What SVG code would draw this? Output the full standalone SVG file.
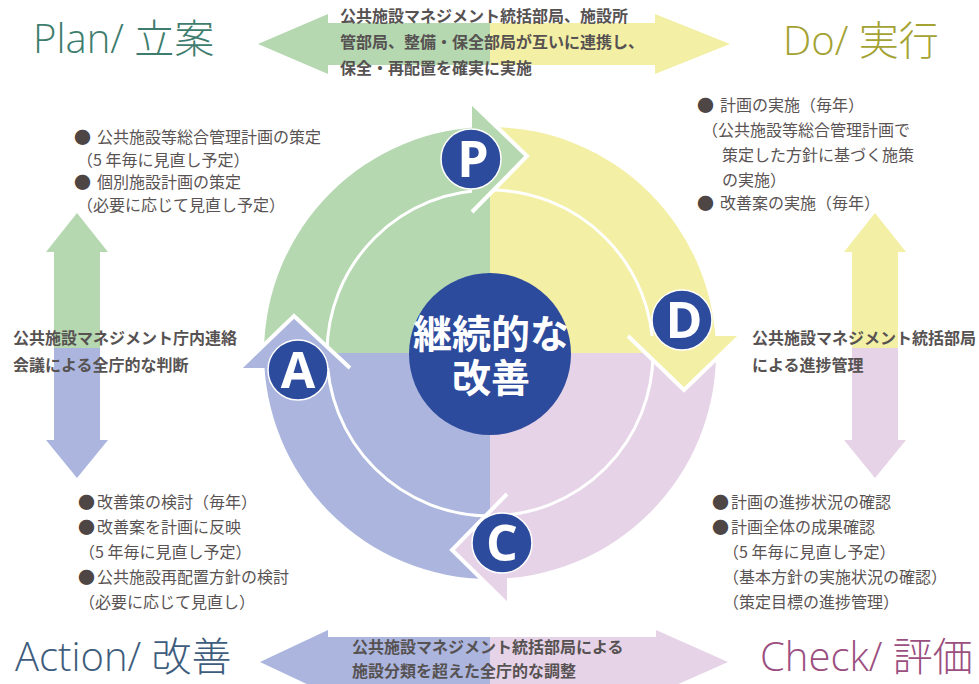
<svg xmlns="http://www.w3.org/2000/svg" width="979" height="684" viewBox="0 0 979 684">
<style>
.g{fill:#b5d8b1}.y{fill:#f3efa4}.p{fill:#e6d3e7}.b{fill:#abb5de}
.edge{fill:none;stroke:#fff;stroke-width:4;stroke-linejoin:miter}
.badge{fill:#2d4b9c;stroke:#fff;stroke-width:1.5}
.bl{font-family:"Open Sans","Liberation Sans",sans-serif;font-weight:700;font-size:50px;fill:#fff;text-anchor:middle}
.lab{font-family:"Noto Sans CJK JP",sans-serif;font-weight:700;font-size:16px;fill:#575252}
.txt{font-family:"Noto Sans CJK JP",sans-serif;font-size:16px;fill:#5a5353}
.bul{font-size:17px;fill:#4e4545}
.ttl{font-family:"Open Sans","Noto Sans CJK JP",sans-serif;font-weight:300;font-size:40px}
.ctr{font-family:"Noto Sans CJK JP",sans-serif;font-weight:700;font-size:39px;fill:#fff;text-anchor:middle}
</style>
<rect width="979" height="684" fill="#fff"/>
<g id="connectors">
  <g id="arrow-top">
    <path class="g" d="M258,44 L328,14 L328,23 L490,23 L490,65 L328,65 L328,74 Z"/>
    <path class="y" d="M730,44 L655,14 L655,23 L490,23 L490,65 L655,65 L655,74 Z"/>
  </g>
  <g id="arrow-bottom">
    <path class="b" d="M260,662 L328,630 L328,637 L490,637 L490,687 L328,687 L328,694 Z"/>
    <path class="p" d="M728,662 L656,630 L656,637 L490,637 L490,687 L656,687 L656,694 Z"/>
  </g>
  <g id="arrow-left">
    <path class="g" d="M77,213 L108,252 L100,252 L100,348 L54,348 L54,252 L46,252 Z"/>
    <path class="b" d="M77,478 L108,440 L100,440 L100,348 L54,348 L54,440 L46,440 Z"/>
  </g>
  <g id="arrow-right">
    <path class="y" d="M875,213 L906,252 L898,252 L898,348 L852,348 L852,252 L844,252 Z"/>
    <path class="p" d="M875,478 L906,440 L898,440 L898,348 L852,348 L852,440 L844,440 Z"/>
  </g>
</g>
<g id="cycle">
  <path class="g" d="M490,353 L264,353 A226,226 0 0 1 490,127 Z"/>
  <path class="y" d="M490,353 L490,127 A226,226 0 0 1 716,353 Z"/>
  <path class="p" d="M490,353 L716,353 A226,226 0 0 1 490,579 Z"/>
  <path class="b" d="M490,353 L490,579 A226,226 0 0 1 264,353 Z"/>
  <circle cx="490" cy="353" r="163" fill="none" stroke="#fff" stroke-width="3"/>
</g>
<g id="head-P"><path class="g" d="M472,103 L527,156 L472,212 Z"/><path class="edge" d="M472,103 L527,156 L472,212"/></g>
<g id="head-D"><path class="y" d="M628,336 L684,390 L740,336 Z"/><path class="edge" d="M628,336 L684,390 L740,336"/></g>
<g id="head-C"><path class="p" d="M507,494 L452,550 L507,604 Z"/><path class="edge" d="M507,494 L452,550 L507,604"/></g>
<g id="head-A"><path class="b" d="M240,368 L294,316 L350,368 Z"/><path class="edge" d="M240,368 L294,316 L350,368"/></g>
<g id="center">
  <circle cx="490" cy="354" r="81" fill="#2d4b9c"/>
  <text class="ctr"><tspan x="491" y="348">継続的な</tspan><tspan x="491" y="392">改善</tspan></text>
</g>
<g id="badge-P"><circle class="badge" cx="471" cy="159" r="30"/><text class="bl" x="473" y="177">P</text></g>
<g id="badge-D"><circle class="badge" cx="682" cy="320" r="30"/><text class="bl" x="684" y="338">D</text></g>
<g id="badge-C"><circle class="badge" cx="502" cy="543" r="30"/><text class="bl" x="502" y="561">C</text></g>
<g id="badge-A"><circle class="badge" cx="298" cy="370" r="30"/><text class="bl" x="298" y="388">A</text></g>
<g id="labels">
  <text class="lab"><tspan x="340" y="22">公共施設マネジメント統括部局、施設所</tspan><tspan x="340" y="48">管部局、整備・保全部局が互いに連携し、</tspan><tspan x="340" y="74">保全・再配置を確実に実施</tspan></text>
  <text class="lab"><tspan x="352" y="653">公共施設マネジメント統括部局による</tspan><tspan x="352" y="677">施設分類を超えた全庁的な調整</tspan></text>
  <text class="lab"><tspan x="13" y="344">公共施設マネジメント庁内連絡</tspan><tspan x="13" y="371">会議による全庁的な判断</tspan></text>
  <text class="lab"><tspan x="752" y="344">公共施設マネジメント統括部局</tspan><tspan x="752" y="371">による進捗管理</tspan></text>
</g>
<g id="plan">
  <text class="ttl" x="33" y="53" fill="#3e7d6d">Plan/ 立案</text>
  <text class="txt"><tspan class="bul" x="74" y="143.5">●</tspan><tspan x="97" y="143">公共施設等総合管理計画の策定</tspan><tspan x="77" y="166">（5 年毎に見直し予定）</tspan><tspan class="bul" x="74" y="188.5">●</tspan><tspan x="97" y="188">個別施設計画の策定</tspan><tspan x="77" y="211">（必要に応じて見直し予定）</tspan></text>
</g>
<g id="do">
  <text class="ttl" x="783" y="55" fill="#a3a232">Do/ 実行</text>
  <text class="txt"><tspan class="bul" x="697" y="111.5">●</tspan><tspan x="720" y="111">計画の実施（毎年）</tspan><tspan x="702" y="136">（公共施設等総合管理計画で</tspan><tspan x="722" y="161">策定した方針に基づく施策</tspan><tspan x="722" y="186">の実施）</tspan><tspan class="bul" x="697" y="209.5">●</tspan><tspan x="720" y="209">改善案の実施（毎年）</tspan></text>
</g>
<g id="action">
  <text class="ttl" x="15" y="671" fill="#3e5c7c">Action/ 改善</text>
  <text class="txt"><tspan class="bul" x="78" y="508.5">●</tspan><tspan x="97" y="508">改善策の検討（毎年）</tspan><tspan class="bul" x="78" y="533.5">●</tspan><tspan x="97" y="533">改善案を計画に反映</tspan><tspan x="79" y="558">（5 年毎に見直し予定）</tspan><tspan class="bul" x="78" y="583.5">●</tspan><tspan x="97" y="583">公共施設再配置方針の検討</tspan><tspan x="79" y="608">（必要に応じて見直し）</tspan></text>
</g>
<g id="check">
  <text class="ttl" x="760" y="671" fill="#9b4f80">Check/ 評価</text>
  <text class="txt"><tspan class="bul" x="712" y="508.5">●</tspan><tspan x="731" y="508">計画の進捗状況の確認</tspan><tspan class="bul" x="712" y="533.5">●</tspan><tspan x="731" y="533">計画全体の成果確認</tspan><tspan x="723" y="558">（5 年毎に見直し予定）</tspan><tspan x="723" y="583">（基本方針の実施状況の確認）</tspan><tspan x="723" y="608">（策定目標の進捗管理）</tspan></text>
</g>
</svg>
